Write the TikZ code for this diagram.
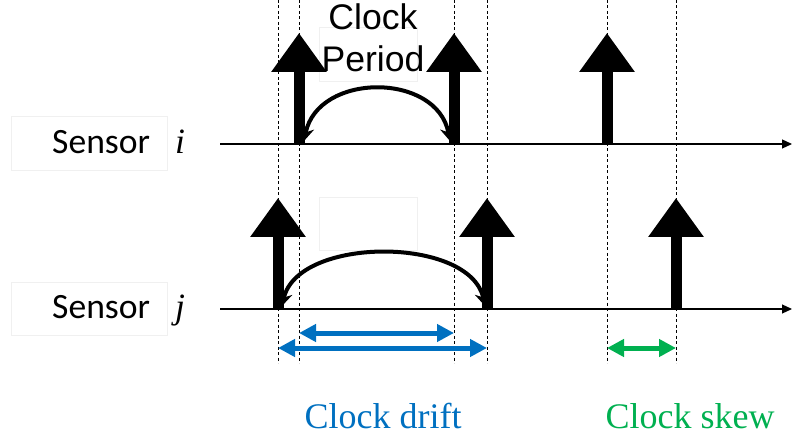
\documentclass[tikz,border=0pt]{standalone}
\usepackage{fontspec}
\setmainfont{Liberation Serif}
\setsansfont{Liberation Sans}
\newfontfamily\calib{Carlito}
\usetikzlibrary{arrows.meta}
\definecolor{driftblue}{HTML}{0070C0}
\definecolor{skewgreen}{HTML}{00B050}

\begin{document}
\begin{tikzpicture}[%
            x=1pt,
            y=-1pt,
            >=Stealth,
            ]
    \tikzset{axis/.style = {line width=1.2pt, -{Triangle[width=9pt,length=10pt]}}}
    \tikzset{tick/.style = {line width=11pt, -{Triangle[width=53pt,length=39pt]}}}
    \tikzset{guide/.style = {dash pattern=on 3pt off 2.5pt, line width=0.7pt}}
    \tikzset{period/.style = {line width=4pt, {Stealth[width=15pt,length=13pt]}-{Stealth[width=15pt,length=13pt]}}}
    \tikzset{span/.style = {line width=5pt, {Triangle[width=17pt,length=17pt]}-{Triangle[width=17pt,length=17pt]}}}
    \tikzset{ghost/.style = {draw=gray!12, line width=0.6pt}}
    \tikzset{label/.style = {inner sep=0pt, anchor=base}}

    \useasboundingbox (0,0) rectangle (792,438);

    % Faint text frames
    \draw[ghost] (11,116) rectangle (167,170);
    \draw[ghost] (11,282) rectangle (167,335);
    \draw[ghost] (319,27) rectangle (417,81);
    \draw[ghost] (319,197) rectangle (417,250);

    % Guides
    \foreach \gx in {278,299,454,487,607,676}
        \draw[guide] (\gx,0) -- (\gx,363);

    % Time axes
    \coordinate (ai) at (220,144);
    \coordinate (aj) at (220,309);
    \draw[axis] (ai) -- (792,144);
    \draw[axis] (aj) -- (792,309);

    % Clock ticks
    \coordinate (ti1) at (299,144);
    \coordinate (ti2) at (454,144);
    \coordinate (ti3) at (607,144);
    \coordinate (tj1) at (278,309);
    \coordinate (tj2) at (487,309);
    \coordinate (tj3) at (676,309);
    \foreach \t in {ti1,ti2,ti3,tj1,tj2,tj3}
        \draw[tick] (\t) -- ++(0,-111);

    % Periods
    \coordinate (pi1) at (304,141);
    \coordinate (pi2) at (450,141);
    \coordinate (pj1) at (282,306);
    \coordinate (pj2) at (485,306);
    \draw[period] (pi1) .. controls (318,72) and (437,72) .. (pi2);
    \draw[period] (pj1) .. controls (298,236) and (470,236) .. (pj2);

    % Drift and skew
    \coordinate (di1) at (299,333);
    \coordinate (di2) at (454,333);
    \coordinate (dj1) at (278,348);
    \coordinate (dj2) at (487,348);
    \coordinate (sk1) at (607,348);
    \coordinate (sk2) at (676,348);
    \draw[span, driftblue] (di1) -- (di2);
    \draw[span, driftblue] (dj1) -- (dj2);
    \draw[span, skewgreen] (sk1) -- (sk2);

    % Labels
    \node[label, anchor=base west] (si) at (52,154) {\fontsize{35.6}{40}\selectfont\calib Sensor\hspace{25pt}\rmfamily\itshape i};
    \node[label, anchor=base west] (sj) at (52,318) {\fontsize{35.6}{40}\selectfont\calib Sensor\hspace{25pt}\rmfamily\itshape j};
    \node[label] (clk) at (373,30) {\fontsize{35.6}{40}\selectfont\sffamily Clock};
    \node[label] (per) at (373,72) {\fontsize{35.6}{40}\selectfont\sffamily Period};
    \node[label, driftblue] (drift) at (383,428) {\fontsize{36}{40}\selectfont Clock drift};
    \node[label, skewgreen] (skew) at (690,428) {\fontsize{36}{40}\selectfont Clock skew};

    \end{tikzpicture}
\end{document}
